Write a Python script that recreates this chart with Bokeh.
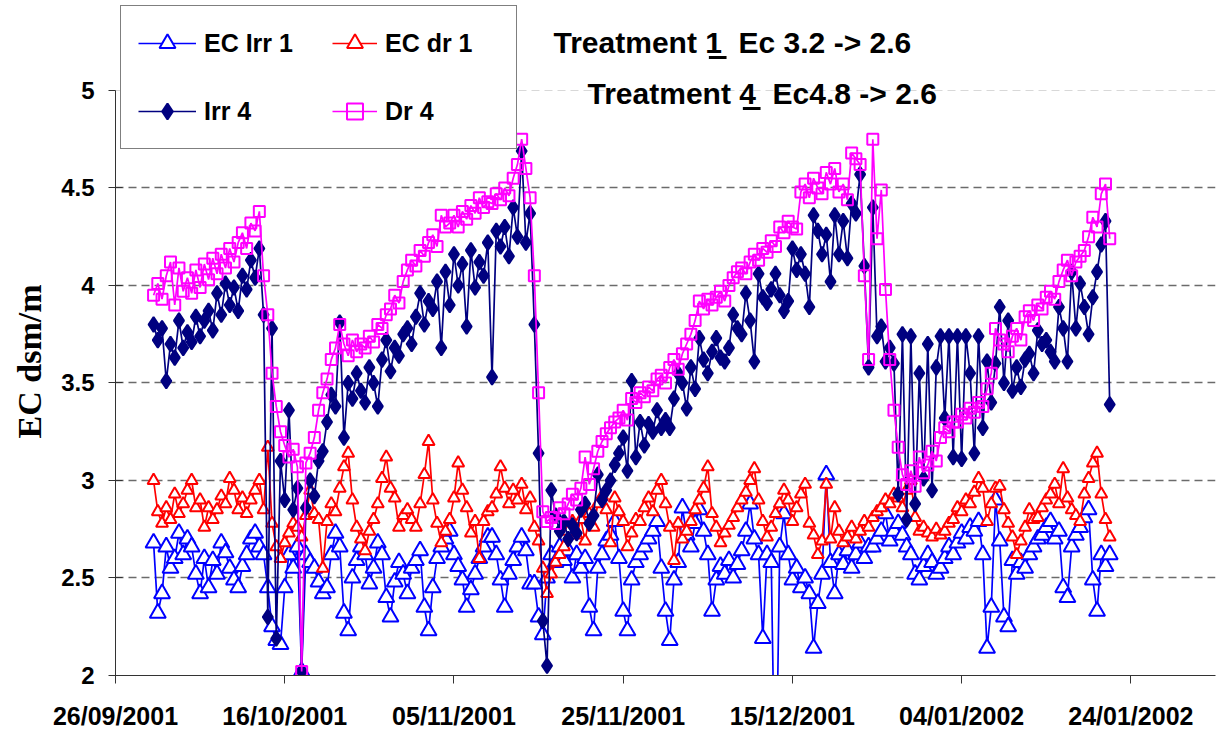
import pandas as pd
from bokeh.plotting import figure
from bokeh.models import (Range1d, FixedTicker, DatetimeTickFormatter, Legend, LegendItem,
                          Label, Span, NumeralTickFormatter, Title, BoxAnnotation)
from bokeh.embed import file_html
from bokeh.resources import INLINE

# ---------------- data (readings every 12 h from 30/09/2001 12:00) ----------------
start_time = "2001-09-30 12:00"
sample_step = "12h"

ec_irr1 = [
    2.68, 2.32, 2.42, 2.66, 2.55, 2.60, 2.73, 2.62, 2.70, 2.66,
    2.52, 2.42, 2.60, 2.45, 2.59, 2.52, 2.68, 2.63, 2.55, 2.49,
    2.45, 2.56, 2.62, 2.70, 2.73, 2.66, 2.62, 2.45, 2.25, 2.18,
    2.16, 2.45, 2.62, 2.55, 2.66, 2.02, 2.62, 2.58, 2.55, 2.48,
    2.42, 2.45, 2.62, 2.73, 2.66, 2.32, 2.23, 2.50, 2.59, 2.66,
    2.62, 2.47, 2.55, 2.68, 2.62, 2.40, 2.30, 2.48, 2.58, 2.52,
    2.42, 2.55, 2.59, 2.64, 2.35, 2.23, 2.45, 2.60, 2.66, 2.70,
    2.74, 2.62, 2.56, 2.49, 2.35, 2.44, 2.52, 2.60, 2.66, 2.71,
    2.71, 2.62, 2.49, 2.35, 2.52, 2.59, 2.66, 2.71, 2.64, 2.47,
    2.47, 2.30, 2.21, 2.50, 2.62, 2.58, 2.66, 2.59, 2.64, 2.50,
    2.62, 2.55, 2.60, 2.35, 2.23, 2.55, 2.62, 2.69, 2.72, 2.79,
    2.60, 2.33, 2.23, 2.49, 2.58, 2.62, 2.66, 2.70, 2.74, 2.79,
    2.55, 2.33, 2.18, 2.49, 2.58, 2.86, 2.72, 2.66, 2.78, 2.85,
    2.74, 2.62, 2.33, 2.49, 2.56, 2.52, 2.59, 2.50, 2.57, 2.64,
    2.74, 2.88, 2.70, 2.62, 2.19, 2.62, 2.58, 1.20, 2.66, 2.83,
    2.62, 2.49, 2.55, 2.45, 2.50, 2.42, 2.14, 2.37, 2.52, 3.03,
    2.58, 2.42, 2.62, 2.57, 2.64, 2.55, 2.62, 2.68, 2.60, 2.66,
    2.66, 2.70, 2.74, 2.83, 2.69, 2.74, 2.78, 2.72, 2.66, 2.62,
    2.52, 2.49, 2.56, 2.62, 2.58, 2.52, 2.55, 2.60, 2.66, 2.62,
    2.68, 2.73, 2.70, 2.76, 2.74, 2.79, 2.62, 2.14, 2.35, 2.90,
    2.69, 2.30, 2.25, 2.59, 2.52, 2.58, 2.55, 2.62, 2.66, 2.70,
    2.72, 2.76, 2.79, 2.70, 2.74, 2.45, 2.40, 2.66, 2.72, 2.76,
    2.81, 2.85, 2.49, 2.33, 2.62, 2.56, 2.62,
]

ec_dr1 = [
    3.00, 2.84, 2.78, 2.86, 2.80, 2.93, 2.83, 2.88, 2.95, 3.00,
    2.86, 2.90, 2.76, 2.86, 2.80, 2.85, 2.92, 2.88, 3.01, 2.95,
    2.85, 2.91, 2.83, 2.90, 2.95, 3.00, 2.85, 3.17, 2.78, 2.66,
    2.60, 2.68, 2.73, 2.78, 2.76, 2.71, 2.82, 2.95, 2.83, 2.80,
    2.55, 2.79, 2.88, 2.84, 2.96, 3.07, 3.14, 2.90, 2.76, 2.70,
    2.64, 2.74, 2.80, 2.88, 3.01, 3.12, 2.96, 2.91, 2.76, 2.82,
    2.85, 2.80, 2.76, 2.88, 3.03, 3.20, 2.90, 2.78, 2.68, 2.74,
    2.80, 2.91, 3.09, 2.95, 2.86, 2.73, 2.79, 2.60, 2.79, 2.84,
    2.86, 2.93, 3.07, 2.96, 2.88, 2.95, 2.90, 2.98, 2.85, 2.91,
    2.76, 2.69, 2.55, 2.42, 2.52, 2.58, 2.62, 2.66, 2.74, 2.79,
    2.72, 2.80, 2.69, 2.83, 2.76, 2.88, 2.92, 2.85, 2.68, 2.91,
    2.84, 2.79, 2.66, 2.73, 2.80, 2.79, 2.86, 2.91, 2.84, 2.95,
    3.00, 2.88, 2.76, 2.59, 2.78, 2.70, 2.74, 2.79, 2.85, 2.90,
    2.96, 3.07, 2.83, 2.76, 2.68, 2.73, 2.77, 2.81, 2.86, 2.90,
    2.94, 3.00, 3.06, 2.90, 2.79, 2.71, 2.76, 2.83, 2.88, 2.95,
    2.90, 2.79, 2.86, 2.93, 2.98, 2.78, 2.72, 2.62, 2.69, 2.98,
    2.70, 2.86, 2.74, 2.68, 2.71, 2.76, 2.70, 2.74, 2.79, 2.76,
    2.81, 2.84, 2.86, 2.90, 2.88, 2.93, 2.91, 2.86, 2.95, 3.00,
    2.81, 2.74, 2.76, 2.73, 2.71, 2.75, 2.72, 2.74, 2.78, 2.80,
    2.86, 2.84, 2.90, 2.88, 2.94, 3.01, 2.96, 2.79, 2.88, 2.96,
    2.97, 2.85, 2.78, 2.71, 2.62, 2.69, 2.76, 2.85, 2.80, 2.81,
    2.86, 2.90, 2.93, 2.98, 2.88, 3.06, 2.91, 2.85, 2.82, 2.79,
    2.93, 3.01, 3.09, 3.14, 2.93, 2.80, 2.71,
]

irr4 = [
    3.80, 3.72, 3.78, 3.51, 3.70, 3.63, 3.82, 3.68, 3.76, 3.71,
    3.84, 3.74, 3.82, 3.87, 3.77, 3.96, 3.85, 4.01, 3.90, 3.99,
    3.87, 4.05, 3.98, 4.13, 4.04, 4.19, 3.85, 2.30, 3.78, 2.19,
    3.10, 2.90, 3.36, 2.85, 2.96, 2.02, 2.86, 3.00, 2.92, 3.10,
    3.15, 3.30, 3.44, 3.38, 3.81, 3.22, 3.50, 3.42, 3.55, 3.46,
    3.40, 3.58, 3.50, 3.38, 3.62, 3.72, 3.56, 3.68, 3.64, 3.75,
    3.78, 3.70, 3.84, 3.96, 3.80, 3.92, 3.88, 4.02, 3.68, 4.07,
    3.90, 4.16, 4.00, 4.11, 3.79, 4.18, 3.99, 4.12, 4.05, 4.22,
    3.53, 4.28, 4.20, 4.30, 4.15, 4.40, 4.25, 4.69, 4.22, 4.37,
    3.80, 3.14, 2.28, 2.05, 2.95, 2.82, 2.74, 2.79, 2.70, 2.77,
    2.73, 2.85, 2.88, 2.78, 2.82, 3.03, 2.90, 2.95, 3.00, 3.08,
    3.14, 3.22, 3.05, 3.51, 3.12, 3.30, 3.18, 3.29, 3.25, 3.36,
    3.27, 3.31, 3.27, 3.42, 3.55, 3.50, 3.37, 3.58, 3.47, 3.73,
    3.62, 3.55, 3.66, 3.73, 3.63, 3.61, 3.68, 3.85, 3.78, 3.75,
    3.96, 3.82, 3.61, 4.06, 3.94, 3.91, 3.98, 4.06, 3.95, 3.87,
    3.92, 4.19, 4.08, 4.16, 4.06, 3.89, 4.36, 4.28, 4.16, 4.26,
    4.02, 4.36, 4.16, 4.33, 4.14, 4.42, 4.37, 4.57, 4.10, 3.58,
    4.40, 3.74, 3.79, 3.61, 3.68, 3.60, 2.93, 3.75, 2.80, 3.74,
    2.88, 3.55, 3.01, 3.70, 2.95, 3.58, 3.74, 3.32, 3.74, 3.12,
    3.74, 3.11, 3.74, 3.55, 3.14, 3.74, 3.27, 3.61, 3.40, 3.60,
    3.89, 3.50, 3.82, 3.46, 3.58, 3.48, 3.62, 3.65, 3.55, 3.77,
    3.70, 3.72, 3.66, 3.61, 3.89, 3.78, 3.61, 4.07, 3.78, 4.01,
    3.89, 3.75, 3.94, 4.07, 4.21, 4.33, 3.39,
]

dr4 = [
    3.95, 4.01, 3.93, 4.05, 4.12, 3.90, 4.09, 3.97, 4.04, 3.96,
    4.08, 3.99, 4.11, 4.03, 4.14, 4.06, 4.16, 4.09, 4.19, 4.12,
    4.22, 4.27, 4.19, 4.32, 4.28, 4.38, 4.05, 3.85, 3.55, 3.38,
    3.25, 3.18, 3.12, 3.16, 3.07, 2.02, 3.09, 3.14, 3.22, 3.36,
    3.45, 3.52, 3.62, 3.68, 3.80, 3.70, 3.64, 3.72, 3.66, 3.70,
    3.68, 3.74, 3.71, 3.80, 3.78, 3.85, 3.88, 3.95, 3.91, 4.02,
    4.08, 4.13, 4.10, 4.18, 4.15, 4.22, 4.26, 4.20, 4.36, 4.30,
    4.32, 4.36, 4.30, 4.38, 4.34, 4.41, 4.37, 4.45, 4.40, 4.43,
    4.42, 4.47, 4.44, 4.50, 4.46, 4.55, 4.62, 4.75, 4.60, 4.45,
    4.05, 3.45, 2.84, 2.79, 2.81, 2.78, 2.86, 2.83, 2.88, 2.93,
    2.90, 2.96, 3.12, 2.98, 3.06, 3.15, 3.20, 3.24, 3.27, 3.30,
    3.32, 3.36, 3.31, 3.42, 3.40, 3.45, 3.43, 3.48, 3.46, 3.52,
    3.54, 3.50, 3.58, 3.62, 3.57, 3.65, 3.70, 3.75, 3.82, 3.92,
    3.88, 3.93, 3.90, 3.94, 3.97, 3.92, 4.00, 4.04, 4.07, 4.09,
    4.06, 4.12, 4.16, 4.13, 4.19, 4.17, 4.23, 4.20, 4.30, 4.27,
    4.33, 4.30, 4.29, 4.48, 4.52, 4.45, 4.55, 4.50, 4.47, 4.58,
    4.52, 4.60, 4.48, 4.52, 4.44, 4.68, 4.65, 4.62, 4.05, 3.62,
    4.75, 4.24, 4.49, 3.98, 3.62, 3.36, 3.17, 3.03, 2.98, 3.05,
    2.97, 3.12, 3.04, 3.08, 3.15, 3.10, 3.22, 3.27, 3.25, 3.30,
    3.30, 3.34, 3.32, 3.37, 3.35, 3.40, 3.38, 3.47, 3.55, 3.78,
    3.72, 3.70, 3.66, 3.74, 3.78, 3.72, 3.84, 3.87, 3.82, 3.90,
    3.88, 3.94, 3.97, 3.93, 4.02, 4.08, 4.13, 4.05, 4.12, 4.15,
    4.18, 4.25, 4.35, 4.30, 4.47, 4.52, 4.24,
]

tick_dates = ["2001-09-26", "2001-10-16", "2001-11-05", "2001-11-25",
              "2001-12-15", "2002-01-04", "2002-01-24"]
y_ticks = [2, 2.5, 3, 3.5, 4, 4.5, 5]
grid_values = [2.5, 3, 3.5, 4, 4.5]
x_start, x_end = "2001-09-26", "2002-02-03"
y_min, y_max = 2, 5
# the frame reaches to the top of the page so that the legend and headings,
# which sit above the value 5, are not clipped
y_view_top = 5.4615

times = pd.date_range(start=start_time, periods=len(dr4), freq=sample_step)

# ---------------- figure ----------------
p = figure(width=1223, height=733, x_axis_type="datetime",
           x_range=Range1d(pd.Timestamp(x_start), pd.Timestamp(x_end)),
           y_range=Range1d(y_min, y_view_top),
           output_backend="svg", toolbar_location=None,
           min_border_left=115, min_border_right=8, min_border_top=0, min_border_bottom=58)
p.outline_line_color = None
p.background_fill_color = "white"
p.border_fill_color = "white"

p.xgrid.visible = False
p.ygrid.ticker = FixedTicker(ticks=grid_values)
p.ygrid.grid_line_color = "#6b6b6b"
p.ygrid.grid_line_dash = "8 5"
p.ygrid.grid_line_width = 1.3
p.add_layout(Span(location=y_max, dimension="width", line_color="#d8d8d8",
                  line_dash="8 5", line_width=1))

# x axis
p.xaxis.ticker = FixedTicker(ticks=[pd.Timestamp(d).value // 10**6 for d in tick_dates])
fmt = "%d/%m/%Y"
p.xaxis.formatter = DatetimeTickFormatter(milliseconds=fmt, seconds=fmt, minsec=fmt, minutes=fmt,
                                          hourmin=fmt, hours=fmt, days=fmt, months=fmt, years=fmt)
p.xaxis.major_label_text_font = "Liberation Sans"
p.xaxis.major_label_text_font_style = "bold"
p.xaxis.major_label_text_font_size = "25px"
p.xaxis.major_label_text_color = "black"
p.xaxis.major_label_standoff = 18
p.xaxis.major_tick_out = 8
p.xaxis.major_tick_in = 0
p.xaxis.minor_tick_line_color = None
p.xaxis.axis_line_color = "#333333"
p.xaxis.major_tick_line_color = "#333333"

# y axis
p.yaxis.ticker = FixedTicker(ticks=y_ticks)
p.yaxis.bounds = (y_min, y_max)
p.yaxis.formatter = NumeralTickFormatter(format="0.[0]")
p.yaxis.major_label_text_font = "Liberation Sans"
p.yaxis.major_label_text_font_style = "bold"
p.yaxis.major_label_text_font_size = "24px"
p.yaxis.major_label_text_color = "black"
p.yaxis.major_label_standoff = 14
p.yaxis.major_tick_out = 7
p.yaxis.major_tick_in = 7
p.yaxis.minor_tick_line_color = None
p.yaxis.axis_line_color = "#333333"
p.yaxis.major_tick_line_color = "#333333"

p.add_layout(Title(text="EC dsm/m", align="right", offset=284, standoff=18,
                   vertical_align="top",
                   text_font="Liberation Serif", text_font_style="bold",
                   text_font_size="34px", text_color="black"), "left")

# ---------------- series ----------------
series = [
    ("EC Irr 1", ec_irr1, "#0000FF", "triangle", 16, "white"),
    ("EC dr 1", ec_dr1, "#FF0000", "triangle", 12, "white"),
    ("Irr 4", irr4, "#000080", "diamond", 15, "#000080"),
    ("Dr 4", dr4, "#FF00FF", "square", 11, None),
]
items = {}
for name, vals, col, mk, sz, fill in series:
    lr = p.line(times, vals, line_color=col, line_width=1.7)
    sr = p.scatter(times, vals, marker=mk, size=sz, line_color=col, line_width=2,
                   fill_color=fill if fill else "white", fill_alpha=1 if fill else 0)
    items[name] = LegendItem(label=name, renderers=[lr, sr])


def make_legend(its, loc, gw, border, lw):
    return Legend(items=its, location=loc, orientation="vertical",
                  padding=17, spacing=28, glyph_width=gw, glyph_height=40,
                  label_height=40, label_standoff=8, label_width=lw,
                  label_text_font="Liberation Sans", label_text_font_style="bold",
                  label_text_font_size="25px", label_text_color="black",
                  border_line_color="black" if border else None, border_line_width=1,
                  background_fill_color="white", background_fill_alpha=1 if border else 0)


legA = make_legend([items["EC Irr 1"], items["Irr 4"]], (5, 526), 58, True, 295)
legB = make_legend([items["EC dr 1"], items["Dr 4"]], (217, 544), 45, False, 100)
p.add_layout(legA)
p.add_layout(legB)

# ---------------- headings (the treatment number is underlined) ----------------
head_size = 30
prefix_em = 5.112   # width of "Treatment " in em for Liberation Sans Bold
digit_em = 0.556
for txt, lx, ly in [("Treatment 1\u00a0\u00a0Ec 3.2 -> 2.6", 438, 633),
                    ("Treatment 4\u00a0\u00a0Ec4.8 -> 2.6", 472, 582)]:
    p.add_layout(Label(x=lx, y=ly, x_units="screen", y_units="screen", text=txt,
                       text_font="Liberation Sans", text_font_style="bold",
                       text_font_size=f"{head_size}px", text_color="black",
                       text_baseline="middle"))
    ul_left = lx + prefix_em * head_size + 2
    p.add_layout(BoxAnnotation(left=ul_left, right=ul_left + digit_em * head_size + 1,
                               bottom=ly - 16.5, top=ly - 13.5,
                               left_units="screen", right_units="screen",
                               bottom_units="screen", top_units="screen",
                               fill_color="black", fill_alpha=1, line_color=None))

open("out.html", "w").write(file_html(p, INLINE))
